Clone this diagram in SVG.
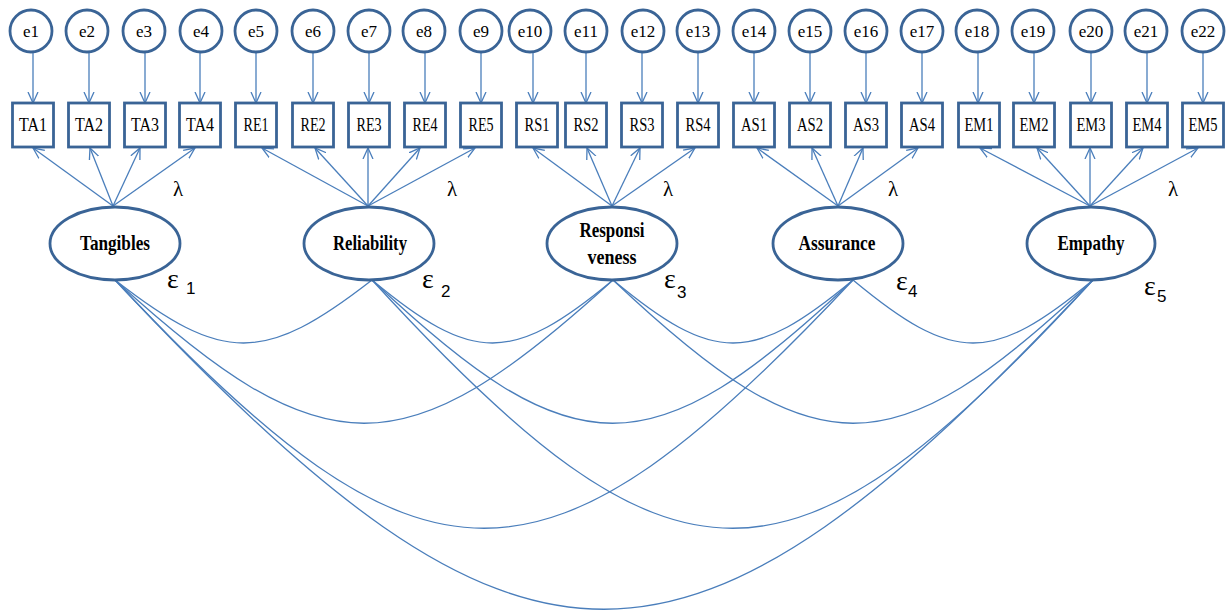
<svg xmlns="http://www.w3.org/2000/svg" width="1227" height="612" viewBox="0 0 1227 612">
<defs>
<style>
.node{fill:#fff;stroke:#3a6496;stroke-width:2.8}
.ln{fill:none;stroke:#4a7ebb;stroke-width:1.3}
.arr{fill:none;stroke:#4a7ebb;stroke-width:1.3;marker-end:url(#ah)}
.el{font-family:"Liberation Serif",serif;font-size:17px;text-anchor:middle;fill:#000}
.bl{font-family:"Liberation Serif",serif;font-size:19px;text-anchor:middle;fill:#000}
.fl{font-family:"Liberation Serif",serif;font-size:21px;font-weight:bold;text-anchor:middle;fill:#000}
.lam{font-family:"Liberation Serif",serif;font-size:21px;text-anchor:middle;fill:#000}
.eps{font-family:"Liberation Serif",serif;font-size:28px;fill:#000}
.sub{font-family:"Liberation Sans",sans-serif;font-size:17px;fill:#000}
</style>
<marker id="ah" markerUnits="userSpaceOnUse" markerWidth="12" markerHeight="12" viewBox="0 0 12 12" refX="11" refY="6" orient="auto">
<path d="M0,1 L11,6 L0,11" fill="none" stroke="#4a7ebb" stroke-width="1.3"/>
</marker>
</defs>
<rect width="1227" height="612" fill="#fff"/>

<g id="connectors">
<line class="arr" x1="33" y1="52" x2="33" y2="103"/>
<line class="arr" x1="89" y1="52" x2="89" y2="103"/>
<line class="arr" x1="145" y1="52" x2="145" y2="103"/>
<line class="arr" x1="200" y1="52" x2="200" y2="103"/>
<line class="arr" x1="256" y1="52" x2="256" y2="103"/>
<line class="arr" x1="313" y1="52" x2="313" y2="103"/>
<line class="arr" x1="369" y1="52" x2="369" y2="103"/>
<line class="arr" x1="425" y1="52" x2="425" y2="103"/>
<line class="arr" x1="481" y1="52" x2="481" y2="103"/>
<line class="arr" x1="533" y1="52" x2="533" y2="103"/>
<line class="arr" x1="586" y1="52" x2="586" y2="103"/>
<line class="arr" x1="642" y1="52" x2="642" y2="103"/>
<line class="arr" x1="698" y1="52" x2="698" y2="103"/>
<line class="arr" x1="754" y1="52" x2="754" y2="103"/>
<line class="arr" x1="810" y1="52" x2="810" y2="103"/>
<line class="arr" x1="866" y1="52" x2="866" y2="103"/>
<line class="arr" x1="922" y1="52" x2="922" y2="103"/>
<line class="arr" x1="978" y1="52" x2="978" y2="103"/>
<line class="arr" x1="1034" y1="52" x2="1034" y2="103"/>
<line class="arr" x1="1091" y1="52" x2="1091" y2="103"/>
<line class="arr" x1="1147" y1="52" x2="1147" y2="103"/>
<line class="arr" x1="1203" y1="52" x2="1203" y2="103"/>
<line class="arr" x1="113" y1="206" x2="33" y2="148"/>
<line class="arr" x1="113" y1="206" x2="90" y2="148"/>
<line class="arr" x1="113" y1="206" x2="140" y2="148"/>
<line class="arr" x1="113" y1="206" x2="195" y2="148"/>
<line class="arr" x1="368" y1="206" x2="262" y2="148"/>
<line class="arr" x1="368" y1="206" x2="315" y2="148"/>
<line class="arr" x1="368" y1="206" x2="368" y2="148"/>
<line class="arr" x1="368" y1="206" x2="420" y2="148"/>
<line class="arr" x1="368" y1="206" x2="475" y2="148"/>
<line class="arr" x1="612" y1="206" x2="533" y2="148"/>
<line class="arr" x1="612" y1="206" x2="587" y2="148"/>
<line class="arr" x1="612" y1="206" x2="640" y2="148"/>
<line class="arr" x1="612" y1="206" x2="695" y2="148"/>
<line class="arr" x1="838" y1="206" x2="757" y2="148"/>
<line class="arr" x1="838" y1="206" x2="812" y2="148"/>
<line class="arr" x1="838" y1="206" x2="863" y2="148"/>
<line class="arr" x1="838" y1="206" x2="918" y2="148"/>
<line class="arr" x1="1090" y1="206" x2="980" y2="148"/>
<line class="arr" x1="1090" y1="206" x2="1037" y2="148"/>
<line class="arr" x1="1090" y1="206" x2="1090" y2="148"/>
<line class="arr" x1="1090" y1="206" x2="1143" y2="148"/>
<line class="arr" x1="1090" y1="206" x2="1198" y2="148"/>
<path class="ln" d="M115,280 C223,364 264,364 372,280"/>
<path class="ln" d="M372,280 C473,364 512,364 613,280"/>
<path class="ln" d="M613,280 C714,364 752,364 853,280"/>
<path class="ln" d="M853,280 C954,364 992,364 1093,280"/>
<path class="ln" d="M115,280 C324,471 404,471 613,280"/>
<path class="ln" d="M372,280 C574,471 651,471 853,280"/>
<path class="ln" d="M613,280 C815,471 891,471 1093,280"/>
<path class="ln" d="M115,280 C425,611 543,611 853,280"/>
<path class="ln" d="M372,280 C675,611 790,611 1093,280"/>
<path class="ln" d="M115,280 C526,719 682,719 1093,280"/>
</g>

<g id="e1"><circle class="node" cx="31" cy="31" r="21"/><text class="el" x="31" y="37">e1</text></g>
<g id="e2"><circle class="node" cx="87" cy="31" r="21"/><text class="el" x="87" y="37">e2</text></g>
<g id="e3"><circle class="node" cx="144" cy="31" r="21"/><text class="el" x="144" y="37">e3</text></g>
<g id="e4"><circle class="node" cx="201" cy="31" r="21"/><text class="el" x="201" y="37">e4</text></g>
<g id="e5"><circle class="node" cx="256" cy="31" r="21"/><text class="el" x="256" y="37">e5</text></g>
<g id="e6"><circle class="node" cx="313" cy="31" r="21"/><text class="el" x="313" y="37">e6</text></g>
<g id="e7"><circle class="node" cx="369" cy="31" r="21"/><text class="el" x="369" y="37">e7</text></g>
<g id="e8"><circle class="node" cx="424" cy="31" r="21"/><text class="el" x="424" y="37">e8</text></g>
<g id="e9"><circle class="node" cx="481" cy="31" r="21"/><text class="el" x="481" y="37">e9</text></g>
<g id="e10"><circle class="node" cx="530" cy="31" r="21"/><text class="el" x="530" y="37">e10</text></g>
<g id="e11"><circle class="node" cx="586" cy="31" r="21"/><text class="el" x="586" y="37">e11</text></g>
<g id="e12"><circle class="node" cx="643" cy="31" r="21"/><text class="el" x="643" y="37">e12</text></g>
<g id="e13"><circle class="node" cx="698" cy="31" r="21"/><text class="el" x="698" y="37">e13</text></g>
<g id="e14"><circle class="node" cx="754" cy="31" r="21"/><text class="el" x="754" y="37">e14</text></g>
<g id="e15"><circle class="node" cx="810" cy="31" r="21"/><text class="el" x="810" y="37">e15</text></g>
<g id="e16"><circle class="node" cx="866" cy="31" r="21"/><text class="el" x="866" y="37">e16</text></g>
<g id="e17"><circle class="node" cx="922" cy="31" r="21"/><text class="el" x="922" y="37">e17</text></g>
<g id="e18"><circle class="node" cx="977" cy="31" r="21"/><text class="el" x="977" y="37">e18</text></g>
<g id="e19"><circle class="node" cx="1033" cy="31" r="21"/><text class="el" x="1033" y="37">e19</text></g>
<g id="e20"><circle class="node" cx="1091" cy="31" r="21"/><text class="el" x="1091" y="37">e20</text></g>
<g id="e21"><circle class="node" cx="1146" cy="31" r="21"/><text class="el" x="1146" y="37">e21</text></g>
<g id="e22"><circle class="node" cx="1203" cy="31" r="21"/><text class="el" x="1203" y="37">e22</text></g>

<g id="TA1"><rect class="node" x="12.5" y="103" width="41" height="44"/><text class="bl" x="33" y="131" textLength="28" lengthAdjust="spacingAndGlyphs">TA1</text></g>
<g id="TA2"><rect class="node" x="68.5" y="103" width="41" height="44"/><text class="bl" x="89" y="131" textLength="28" lengthAdjust="spacingAndGlyphs">TA2</text></g>
<g id="TA3"><rect class="node" x="124.5" y="103" width="41" height="44"/><text class="bl" x="145" y="131" textLength="28" lengthAdjust="spacingAndGlyphs">TA3</text></g>
<g id="TA4"><rect class="node" x="179.5" y="103" width="41" height="44"/><text class="bl" x="200" y="131" textLength="28" lengthAdjust="spacingAndGlyphs">TA4</text></g>
<g id="RE1"><rect class="node" x="235.5" y="103" width="41" height="44"/><text class="bl" x="256" y="131" textLength="25" lengthAdjust="spacingAndGlyphs">RE1</text></g>
<g id="RE2"><rect class="node" x="292.5" y="103" width="41" height="44"/><text class="bl" x="313" y="131" textLength="25" lengthAdjust="spacingAndGlyphs">RE2</text></g>
<g id="RE3"><rect class="node" x="348.5" y="103" width="41" height="44"/><text class="bl" x="369" y="131" textLength="25" lengthAdjust="spacingAndGlyphs">RE3</text></g>
<g id="RE4"><rect class="node" x="404.5" y="103" width="41" height="44"/><text class="bl" x="425" y="131" textLength="25" lengthAdjust="spacingAndGlyphs">RE4</text></g>
<g id="RE5"><rect class="node" x="460.5" y="103" width="41" height="44"/><text class="bl" x="481" y="131" textLength="25" lengthAdjust="spacingAndGlyphs">RE5</text></g>
<g id="RS1"><rect class="node" x="516.5" y="103" width="41" height="44"/><text class="bl" x="537" y="131" textLength="25" lengthAdjust="spacingAndGlyphs">RS1</text></g>
<g id="RS2"><rect class="node" x="565.5" y="103" width="41" height="44"/><text class="bl" x="586" y="131" textLength="25" lengthAdjust="spacingAndGlyphs">RS2</text></g>
<g id="RS3"><rect class="node" x="621.5" y="103" width="41" height="44"/><text class="bl" x="642" y="131" textLength="25" lengthAdjust="spacingAndGlyphs">RS3</text></g>
<g id="RS4"><rect class="node" x="677.5" y="103" width="41" height="44"/><text class="bl" x="698" y="131" textLength="25" lengthAdjust="spacingAndGlyphs">RS4</text></g>
<g id="AS1"><rect class="node" x="733.5" y="103" width="41" height="44"/><text class="bl" x="754" y="131" textLength="26" lengthAdjust="spacingAndGlyphs">AS1</text></g>
<g id="AS2"><rect class="node" x="789.5" y="103" width="41" height="44"/><text class="bl" x="810" y="131" textLength="26" lengthAdjust="spacingAndGlyphs">AS2</text></g>
<g id="AS3"><rect class="node" x="845.5" y="103" width="41" height="44"/><text class="bl" x="866" y="131" textLength="26" lengthAdjust="spacingAndGlyphs">AS3</text></g>
<g id="AS4"><rect class="node" x="901.5" y="103" width="41" height="44"/><text class="bl" x="922" y="131" textLength="26" lengthAdjust="spacingAndGlyphs">AS4</text></g>
<g id="EM1"><rect class="node" x="958.5" y="103" width="41" height="44"/><text class="bl" x="979" y="131" textLength="29" lengthAdjust="spacingAndGlyphs">EM1</text></g>
<g id="EM2"><rect class="node" x="1013.5" y="103" width="41" height="44"/><text class="bl" x="1034" y="131" textLength="29" lengthAdjust="spacingAndGlyphs">EM2</text></g>
<g id="EM3"><rect class="node" x="1070.5" y="103" width="41" height="44"/><text class="bl" x="1091" y="131" textLength="29" lengthAdjust="spacingAndGlyphs">EM3</text></g>
<g id="EM4"><rect class="node" x="1126.5" y="103" width="41" height="44"/><text class="bl" x="1147" y="131" textLength="29" lengthAdjust="spacingAndGlyphs">EM4</text></g>
<g id="EM5"><rect class="node" x="1182.5" y="103" width="41" height="44"/><text class="bl" x="1203" y="131" textLength="29" lengthAdjust="spacingAndGlyphs">EM5</text></g>

<g id="Tangibles"><ellipse class="node" cx="115" cy="243.5" rx="65" ry="36.5"/><text class="fl" x="115" y="250" textLength="70" lengthAdjust="spacingAndGlyphs">Tangibles</text></g>
<g id="Reliability"><ellipse class="node" cx="369" cy="243.5" rx="65" ry="36.5"/><text class="fl" x="370" y="250" textLength="74" lengthAdjust="spacingAndGlyphs">Reliability</text></g>
<g id="Responsiveness"><ellipse class="node" cx="612" cy="243.5" rx="65" ry="36.5"/><text class="fl" x="612" y="237" textLength="65" lengthAdjust="spacingAndGlyphs">Responsi</text><text class="fl" x="612" y="264" textLength="49" lengthAdjust="spacingAndGlyphs">veness</text></g>
<g id="Assurance"><ellipse class="node" cx="838" cy="243.5" rx="65" ry="36.5"/><text class="fl" x="837" y="250" textLength="77" lengthAdjust="spacingAndGlyphs">Assurance</text></g>
<g id="Empathy"><ellipse class="node" cx="1091" cy="243.5" rx="64" ry="36.5"/><text class="fl" x="1091" y="250" textLength="67" lengthAdjust="spacingAndGlyphs">Empathy</text></g>

<g id="labels">
<text class="lam" x="178" y="196">λ</text>
<text class="lam" x="452" y="196">λ</text>
<text class="lam" x="668" y="196">λ</text>
<text class="lam" x="893" y="196">λ</text>
<text class="lam" x="1173" y="196">λ</text>
<text class="eps" x="167" y="288">ε<tspan class="sub" x="186" y="294">1</tspan></text>
<text class="eps" x="422" y="288">ε<tspan class="sub" x="441" y="297">2</tspan></text>
<text class="eps" x="664" y="288">ε<tspan class="sub" x="677" y="298">3</tspan></text>
<text class="eps" x="896" y="290">ε<tspan class="sub" x="908" y="297">4</tspan></text>
<text class="eps" x="1144" y="295">ε<tspan class="sub" x="1157" y="302">5</tspan></text>
</g>
</svg>
